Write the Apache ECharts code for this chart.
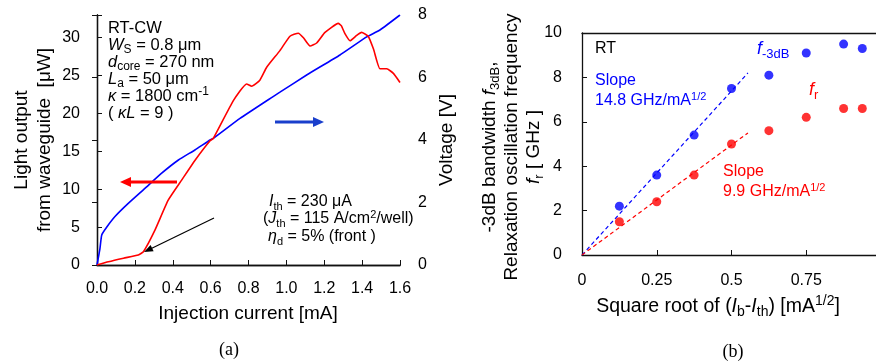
<!DOCTYPE html>
<html>
<head>
<meta charset="utf-8">
<script src="https://cdn.jsdelivr.net/npm/echarts@6/dist/echarts.min.js"></script>
<style>
  html, body { margin: 0; padding: 0; background: #fff; }
  #chart { width: 876px; height: 362px; }
</style>
</head>
<body>
<div id="chart"></div>
<script>
// (a) light output and voltage vs injection current
const lightI = [0, 0.06, 0.14, 0.218, 0.245, 0.306, 0.376, 0.447, 0.517, 0.597, 0.614, 0.72, 0.79, 0.817, 0.86, 0.896, 0.966, 1.019, 1.063, 1.09, 1.125, 1.16, 1.204, 1.274, 1.29, 1.31, 1.336, 1.371, 1.397, 1.432, 1.46, 1.494, 1.53, 1.565, 1.6]
const lightP = [0, 0.43, 0.9, 1.32, 1.75, 4.6, 8.55, 11.2, 13.8, 16.4, 16.7, 21.7, 23.9, 23.6, 24.4, 26.1, 28.3, 30.2, 30.6, 30.0, 28.9, 29.3, 30.7, 31.9, 31.6, 30.5, 29.6, 30.3, 30.7, 30.2, 28.5, 25.9, 25.9, 25.3, 24.1]
const voltI = [0, 0.015, 0.025, 0.05, 0.095, 0.165, 0.253, 0.34, 0.43, 0.517, 0.597, 0.614, 0.755, 0.93, 0.966, 1.107, 1.283, 1.424, 1.494, 1.6]
const voltV = [0, 0.5, 0.96, 1.2, 1.55, 1.97, 2.45, 2.93, 3.36, 3.68, 4.0, 4.05, 4.69, 5.39, 5.53, 6.08, 6.72, 7.3, 7.52, 8.0]

// (b) f-3dB and fr vs sqrt(Ib - Ith)
const sqrtI = [0.125, 0.25, 0.375, 0.5, 0.625, 0.75, 0.875, 0.9375]
const f3dB = [2.2, 3.6, 5.4, 7.5, 8.1, 9.1, 9.5, 9.3]
const fr = [1.5, 2.4, 3.6, 5.0, 5.6, 6.2, 6.6, 6.6]
const fitX = [0, 0.555]
const fit3dB = [0, 8.2]
const fitR = [0, 5.5]

const FONT = 'Liberation Sans, Arial, sans-serif'
const SERIF = 'Liberation Serif, Times New Roman, serif'
const RED = '#ff0000'
const BLUE = '#0000ff'

const zip = (xs, ys) => xs.map((x, i) => [x, ys[i]])

function rich(size, color) {
	const small = Math.round(size * 0.7)
	return {
		n: { fontSize: size, fill: color, fontFamily: FONT },
		i: { fontSize: size, fill: color, fontFamily: FONT, fontStyle: 'italic' },
		s: { fontSize: small, fill: color, fontFamily: FONT, padding: [Math.round(size * 0.55), 0, 0, 0] },
		p: { fontSize: small, fill: color, fontFamily: FONT, padding: [0, 0, Math.round(size * 0.55), 0] }
	}
}

function txt(x, y, text, size, color, opts = {}) {
	return {
		type: 'text',
		x: x,
		y: y,
		rotation: opts.rotate ? Math.PI / 2 : 0,
		z: 100,
		style: {
			text: text,
			rich: rich(size, color),
			fontSize: size,
			fontFamily: opts.family || FONT,
			fill: color,
			align: opts.align || 'left',
			verticalAlign: 'middle'
		}
	}
}

function arrow(x1, y1, x2, y2, color, w, hl, hw) {
	const dx = x2 - x1
	const dy = y2 - y1
	const len = Math.sqrt(dx * dx + dy * dy)
	const ux = dx / len
	const uy = dy / len
	const bx = x2 - ux * hl
	const by = y2 - uy * hl
	return [
		{ type: 'line', z: 100, shape: { x1: x1, y1: y1, x2: bx + ux * 2, y2: by + uy * 2 }, style: { stroke: color, lineWidth: w } },
		{
			type: 'polygon',
			z: 100,
			shape: { points: [[x2, y2], [bx - uy * hw, by + ux * hw], [bx + uy * hw, by - ux * hw]] },
			style: { fill: color }
		}
	]
}

const axisLine = { show: true, lineStyle: { color: '#111', width: 1.3 } }
const tick = { show: true, inside: true, length: 5, lineStyle: { color: '#111', width: 1 } }
const label = (margin, fmt) => ({ show: true, margin: margin, fontSize: 16, color: '#000', fontFamily: FONT, formatter: fmt })
const frame = (gridIndex, min, max) => ({
	type: 'value', gridIndex: gridIndex, position: 'top', min: min, max: max,
	axisLine: axisLine, axisTick: { show: false }, axisLabel: { show: false }, splitLine: { show: false }
})

const chart = echarts.init(document.getElementById('chart'))

const option = {
	animation: false,
	backgroundColor: '#fff',
	grid: [
		{ left: 97, top: 15, width: 303, height: 250, outerBoundsMode: 'none' },
		{ left: 582, top: 33, width: 299, height: 222, outerBoundsMode: 'none' }
	],
	xAxis: [
		{
			type: 'value', gridIndex: 0, min: 0, max: 1.6, interval: 0.2,
			axisLine: axisLine, axisTick: tick, splitLine: { show: false },
			axisLabel: label(16, (v) => v.toFixed(1))
		},
		frame(0, 0, 1.6),
		{
			type: 'value', gridIndex: 1, min: 0, max: 1, interval: 0.25,
			axisLine: axisLine, axisTick: tick, splitLine: { show: false },
			axisLabel: label(18, (v) => (v >= 1 ? '' : String(v)))
		},
		frame(1, 0, 1)
	],
	yAxis: [
		{
			type: 'value', gridIndex: 0, min: 0, max: 33, interval: 5,
			axisLine: axisLine, axisTick: tick, splitLine: { show: false },
			axisLabel: label(17, (v) => (v <= 30 ? String(v) : ''))
		},
		{
			type: 'value', gridIndex: 0, position: 'right', min: 0, max: 8, interval: 2,
			axisLine: axisLine, axisTick: tick, splitLine: { show: false },
			axisLabel: label(18, (v) => String(v))
		},
		{
			type: 'value', gridIndex: 1, min: 0, max: 10, interval: 2,
			axisLine: axisLine, axisTick: tick, splitLine: { show: false },
			axisLabel: label(20, (v) => String(v))
		}
	],
	series: [
		{
			name: 'Voltage', type: 'line', xAxisIndex: 0, yAxisIndex: 1, data: zip(voltI, voltV),
			showSymbol: false, smooth: 0.15, lineStyle: { color: BLUE, width: 1.6 }
		},
		{
			name: 'Light output', type: 'line', xAxisIndex: 0, yAxisIndex: 0, data: zip(lightI, lightP),
			showSymbol: false, smooth: 0.15, lineStyle: { color: RED, width: 1.6 }
		},
		{
			name: 'fit 3dB', type: 'line', xAxisIndex: 2, yAxisIndex: 2, data: zip(fitX, fit3dB),
			showSymbol: false, lineStyle: { color: BLUE, width: 1.2, type: [4, 3] }
		},
		{
			name: 'fit r', type: 'line', xAxisIndex: 2, yAxisIndex: 2, data: zip(fitX, fitR),
			showSymbol: false, lineStyle: { color: RED, width: 1.2, type: [4, 3] }
		},
		{
			name: 'f-3dB', type: 'scatter', xAxisIndex: 2, yAxisIndex: 2, data: zip(sqrtI, f3dB),
			symbolSize: 9, itemStyle: { color: BLUE }
		},
		{
			name: 'fr', type: 'scatter', xAxisIndex: 2, yAxisIndex: 2, data: zip(sqrtI, fr),
			symbolSize: 9, itemStyle: { color: RED }
		}
	],
	graphic: [
		// (a) parameters
		txt(108, 28, '{n|RT-CW}', 16.5, '#000'),
		txt(108, 45, '{i|W}{s|S}{n| = 0.8 μm}', 16.5, '#000'),
		txt(108, 62, '{i|d}{s|core}{n| = 270 nm}', 16.5, '#000'),
		txt(108, 79, '{i|L}{s|a}{n| = 50 μm}', 16.5, '#000'),
		txt(108, 96, '{i|κ}{n| = 1800 cm}{p|-1}', 16.5, '#000'),
		txt(108, 113, '{n|( }{i|κL}{n| = 9 )}', 16.5, '#000'),
		txt(269, 202, '{i|I}{s|th}{n| = 230 μA}', 16, '#000'),
		txt(263, 219, '{n|(}{i|J}{s|th}{n| = 115 A/cm}{p|2}{n|/well)}', 16, '#000'),
		txt(268, 237, '{i|η}{s|d}{n| = 5% (front )}', 16, '#000'),
		...arrow(214, 218, 144, 252, '#000', 1.2, 9, 3.5),
		...arrow(177, 182, 120, 182, RED, 3, 11, 5),
		...arrow(275, 122, 324, 122, '#1a3fcc', 3, 11, 5),
		// (a) axis titles
		txt(248, 314, '{n|Injection current [mA]}', 19, '#000', { align: 'center' }),
		txt(22, 140, '{n|Light output}', 19, '#000', { align: 'center', rotate: true }),
		txt(45, 140, '{n|from waveguide  [μW]}', 19, '#000', { align: 'center', rotate: true }),
		txt(447, 140, '{n|Voltage [V]}', 19, '#000', { align: 'center', rotate: true }),
		txt(229, 350, '(a)', 18, '#000', { align: 'center', family: SERIF }),
		// (b) annotations
		txt(595, 49, '{n|RT}', 16, '#000'),
		txt(595, 81, '{n|Slope}', 16, BLUE),
		txt(595, 101, '{n|14.8 GHz/mA}{p|1/2}', 16, BLUE),
		txt(757, 49, '{i|f}{s|-3dB}', 18, BLUE),
		txt(809, 90, '{i|f}{s|r}', 18, RED),
		txt(723, 172, '{n|Slope}', 16, RED),
		txt(723, 192, '{n|9.9 GHz/mA}{p|1/2}', 16, RED),
		// (b) axis titles
		txt(718, 307, '{n|Square root of (}{i|I}{s|b}{n|-}{i|I}{s|th}{n|) [mA}{p|1/2}{n|]}', 19.5, '#000', { align: 'center' }),
		txt(490, 147, '{n|-3dB bandwidth }{i|f}{s|3dB}{n|,}', 19, '#000', { align: 'center', rotate: true }),
		txt(512, 147, '{n|Relaxation oscillation frequency}', 19, '#000', { align: 'center', rotate: true }),
		txt(534, 147, '{i|f}{s|r}{n| [ GHz ]}', 19, '#000', { align: 'center', rotate: true }),
		txt(733, 352, '(b)', 18, '#000', { align: 'center', family: SERIF })
	]
}

chart.setOption(option)
</script>
</body>
</html>
